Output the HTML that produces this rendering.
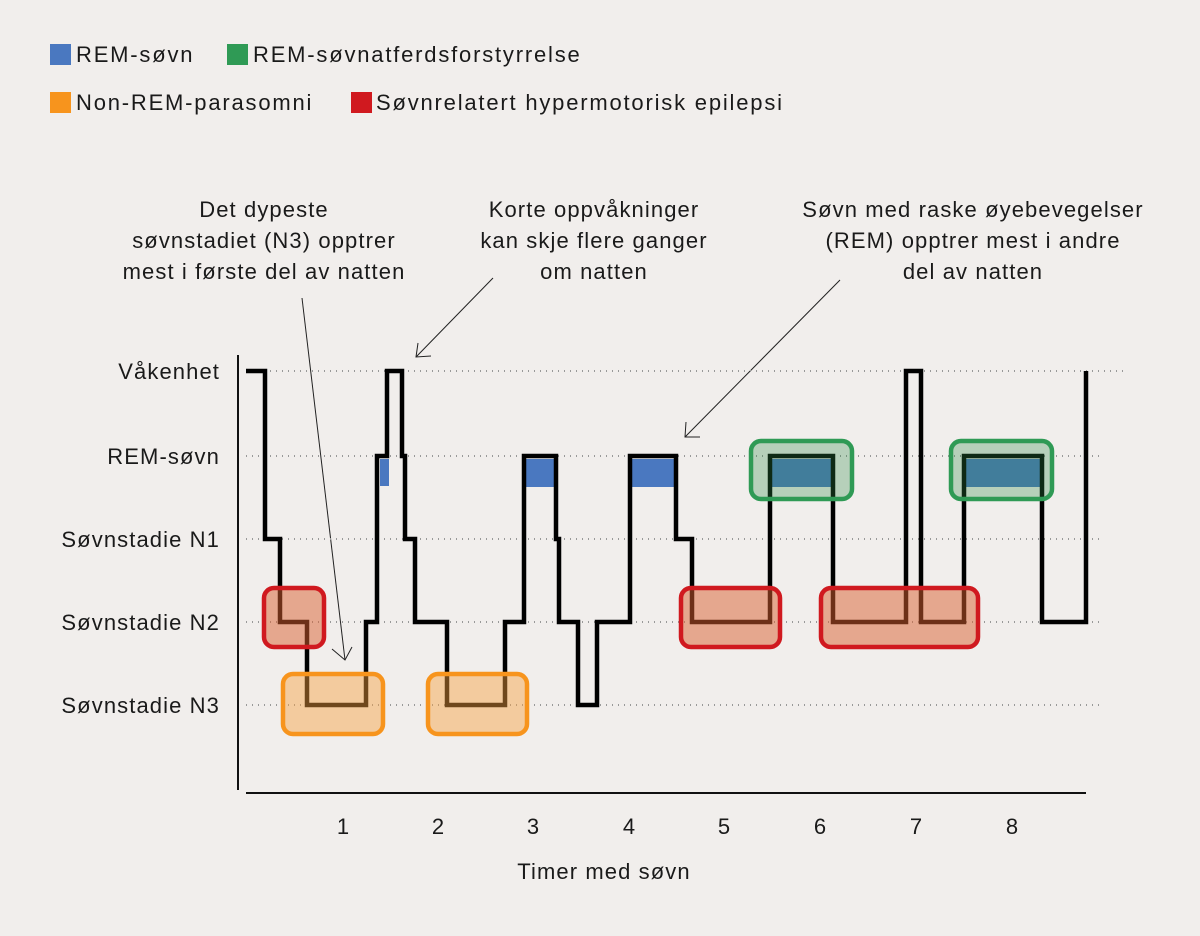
<!DOCTYPE html>
<html><head><meta charset="utf-8"><style>
body{margin:0;background:#f1eeec;}
svg{display:block;font-family:"Liberation Sans",sans-serif;}
</style></head><body>
<svg width="1200" height="936" viewBox="0 0 1200 936" xmlns="http://www.w3.org/2000/svg">
<rect width="1200" height="936" fill="#f1eeec"/>
<!-- legend -->
<g font-size="22" fill="#1a1a1a" letter-spacing="1.8">
<rect x="50" y="44" width="21" height="21" fill="#4a78c0"/><text x="76" y="62">REM-søvn</text>
<rect x="227" y="44" width="21" height="21" fill="#2f9a55"/><text x="253" y="62">REM-søvnatferdsforstyrrelse</text>
<rect x="50" y="92" width="21" height="21" fill="#f7941d"/><text x="76" y="110">Non-REM-parasomni</text>
<rect x="351" y="92" width="21" height="21" fill="#d0191f"/><text x="376" y="110">Søvnrelatert hypermotorisk epilepsi</text>
</g>
<!-- annotations -->
<g font-size="22" fill="#1a1a1a" text-anchor="middle" letter-spacing="1.1">
<text x="264" y="217">Det dypeste</text><text x="264" y="248">søvnstadiet (N3) opptrer</text><text x="264" y="279">mest i første del av natten</text>
<text x="594" y="217">Korte oppvåkninger</text><text x="594" y="248">kan skje flere ganger</text><text x="594" y="279">om natten</text>
<text x="973" y="217">Søvn med raske øyebevegelser</text><text x="973" y="248">(REM) opptrer mest i andre</text><text x="973" y="279">del av natten</text>
</g>
<g stroke="#222" stroke-width="1" fill="none">
<line x1="302" y1="298" x2="345" y2="660"/><polyline points="332,649 345,660 352,647"/>
<line x1="493" y1="278" x2="416" y2="357"/><polyline points="418,343 416,357 431,356"/>
<line x1="840" y1="280" x2="685" y2="437"/><polyline points="686,422 685,437 700,437"/>
</g>
<!-- y labels -->
<g font-size="22" fill="#1a1a1a" text-anchor="end" letter-spacing="1.1">
<text x="220" y="379">Våkenhet</text><text x="220" y="464">REM-søvn</text><text x="220" y="547">Søvnstadie N1</text><text x="220" y="630">Søvnstadie N2</text><text x="220" y="713">Søvnstadie N3</text>
</g>
<g stroke="#999" stroke-width="2" stroke-dasharray="1 5">
<line x1="246" y1="371" x2="1125" y2="371"/><line x1="246" y1="456" x2="1100" y2="456"/><line x1="246" y1="539" x2="1100" y2="539"/><line x1="246" y1="622" x2="1100" y2="622"/><line x1="246" y1="705" x2="1100" y2="705"/>
</g>
<line x1="238" y1="355" x2="238" y2="790" stroke="#111" stroke-width="2"/>
<line x1="246" y1="793" x2="1086" y2="793" stroke="#111" stroke-width="2"/>
<g font-size="22" fill="#1a1a1a" text-anchor="middle">
<text x="343" y="834">1</text><text x="438" y="834">2</text><text x="533" y="834">3</text><text x="629" y="834">4</text><text x="724" y="834">5</text><text x="820" y="834">6</text><text x="916" y="834">7</text><text x="1012" y="834">8</text>
<text x="604" y="879" letter-spacing="1.1">Timer med søvn</text>
</g>
<!-- blue fills -->
<g fill="#4a78c0">
<rect x="380" y="459" width="9" height="27"/><rect x="524" y="459" width="32" height="28"/><rect x="632" y="459" width="44" height="28"/>
<rect x="770" y="459" width="63" height="28"/><rect x="964" y="459" width="78" height="28"/>
</g>
<!-- hypnogram -->
<polyline fill="none" stroke="#000" stroke-width="4.5" stroke-linejoin="miter" points="246,371 265,371 265,539 280,539 280,622 307,622 307,705 366,705 366,622 377,622 377,456 387,456 387,371 402,371 402,456 405,456 405,539 415,539 415,622 447,622 447,705 505,705 505,622 524,622 524,456 556,456 556,539 559,539 559,622 578,622 578,705 597,705 597,622 630,622 630,456 676,456 676,539 692,539 692,622 770,622 770,456 833,456 833,622 906,622 906,371 921,371 921,622 964,622 964,456 1042,456 1042,622 1086,622 1086,371"/>
<!-- boxes -->
<g stroke-width="4.5">
<rect x="264" y="588" width="60" height="59" rx="10" fill="#d9602f" fill-opacity="0.5" stroke="#d0191f"/>
<rect x="283" y="674" width="100" height="60" rx="10" fill="#f7a040" fill-opacity="0.45" stroke="#f7941d"/>
<rect x="428" y="674" width="99" height="60" rx="10" fill="#f7a040" fill-opacity="0.45" stroke="#f7941d"/>
<rect x="681" y="588" width="99" height="59" rx="10" fill="#d9602f" fill-opacity="0.5" stroke="#d0191f"/>
<rect x="821" y="588" width="157" height="59" rx="10" fill="#d9602f" fill-opacity="0.5" stroke="#d0191f"/>
<rect x="751" y="441" width="101" height="58" rx="10" fill="#2f8a45" fill-opacity="0.3" stroke="#2f9a55"/>
<rect x="951" y="441" width="101" height="58" rx="10" fill="#2f8a45" fill-opacity="0.3" stroke="#2f9a55"/>
</g>
</svg>
</body></html>
